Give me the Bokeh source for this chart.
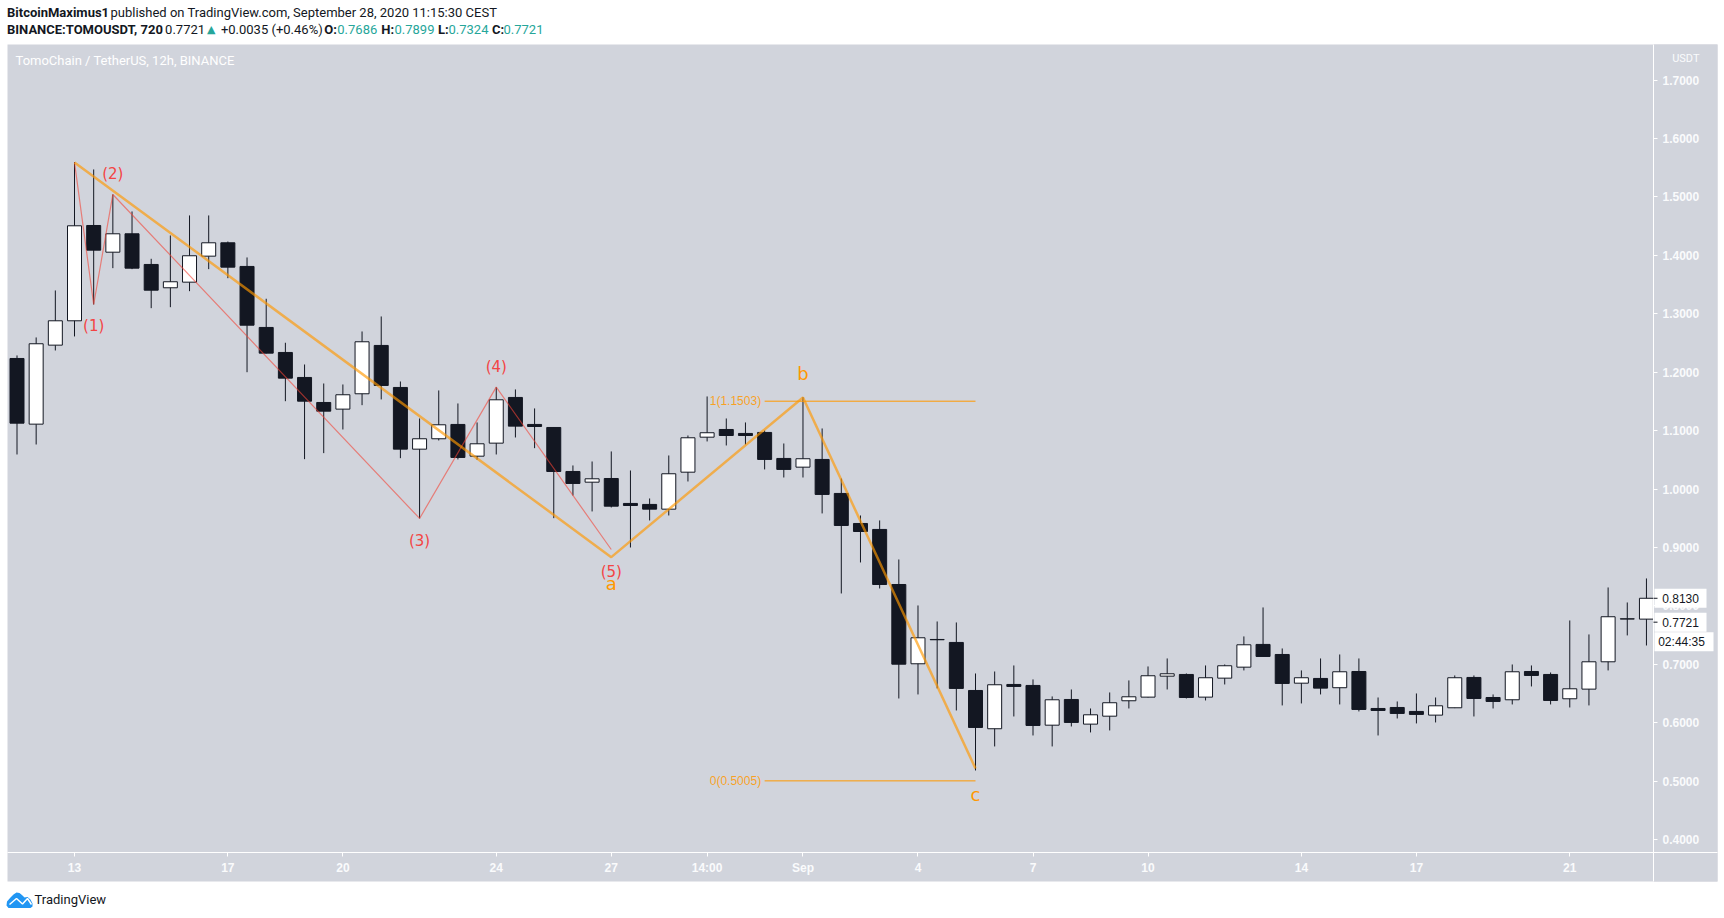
from bokeh.plotting import figure
from bokeh.core.properties import value
from bokeh.models import Label, FixedTicker, NumeralTickFormatter, Range1d, BoxAnnotation
from bokeh.embed import file_html
from bokeh.resources import INLINE

# ---------- data ----------
OPEN = [1.2234,1.1110,1.2462,1.2879,1.4510,1.4053,1.4368,1.3843,1.3444,1.3540,1.3985,1.4214,1.3809,1.2765,1.2337,1.1909,1.1481,1.1367,1.1630,1.2457,
        1.1738,1.0682,1.0860,1.1105,1.0562,1.0785,1.1567,1.1105,1.1053,1.0300,1.0117,1.0180,.9753,.9736,.9655,1.0288,1.0887,1.1019,1.0951,1.0968,
        1.0523,1.0374,1.0506,.9924,.9410,.9308,.8366,.7009,.7425,.7374,.6552,.5897,.6655,.6638,.5958,.6398,.5976,.6112,.6376,.6438,
        .6797,.6826,.6438,.6763,.6951,.7340,.7168,.6677,.6758,.6599,.6877,.6244,.6261,.6193,.6130,.6256,.6775,.6432,.6393,.6877,
        .6826,.6410,.6575,.7043,.7775,.7773]
CLOSE = [1.1127,1.2486,1.2879,1.4505,1.4088,1.4368,1.3780,1.3403,1.3547,1.3992,1.4214,1.3797,1.2804,1.2325,1.1897,1.1503,1.1332,1.1613,1.2520,1.1772,
         1.0682,1.0860,1.1099,1.0540,1.0774,1.1527,1.1076,1.1070,1.0300,1.0095,1.0175,.9706,.9718,.9655,1.0261,1.0877,1.0963,1.0916,1.0916,1.0506,
         1.0335,1.0518,.9907,.9376,.9273,.8366,.7002,.7454,.7420,.6587,.5919,.6650,.6621,.5953,.6393,.6005,.6136,.6342,.6444,.6804,
         .6838,.6432,.6770,.6975,.7334,.7134,.6672,.6770,.6592,.6872,.6227,.6210,.6159,.6142,.6290,.6770,.6415,.6364,.6872,.6809,
         .6381,.6581,.7043,.7814,.7779,.8130]
HIGH = [1.2286,1.2594,1.3398,1.5594,1.5469,1.5041,1.4750,1.3940,1.4339,1.4682,1.4682,1.4236,1.3963,1.3256,1.2503,1.2131,1.1806,1.1789,1.2696,1.2953,
        1.1840,1.1207,1.1687,1.1464,1.1139,1.1743,1.1704,1.1379,1.1060,1.0403,1.0471,1.0643,1.0317,.9838,1.0574,1.0916,1.1584,1.1207,1.1139,1.1002,
        1.0779,1.1572,1.1036,1.0180,.9547,.9462,.8794,.8007,.7733,.7716,.6843,.6877,.6980,.6741,.6450,.6569,.6244,.6518,.6724,.6963,
        .7100,.6843,.6980,.6997,.7477,.7973,.7271,.6895,.7100,.7168,.7100,.6432,.6364,.6501,.6432,.6809,.6809,.6484,.6997,.6980,
        .6860,.7750,.7511,.8315,.8058,.8469]
LOW = [1.0591,1.0762,1.2371,1.2611,1.3158,1.3780,1.3763,1.3095,1.3112,1.3386,1.3763,1.3608,1.1999,1.2320,1.1503,1.0511,1.0614,1.1019,1.1435,1.1533,
       1.0528,.9496,1.0831,1.0506,1.0501,1.0591,1.0882,1.0699,.9501,.9889,.9616,.9684,.8999,.9462,.9547,1.0129,1.0814,1.0745,1.0762,1.0335,
       1.0197,1.0197,.9582,.8212,.8743,.8298,.6415,.6484,.6587,.6210,.5183,.5594,.6107,.5782,.5594,.5936,.5834,.5868,.6244,.6432,
       .6569,.6415,.6381,.6655,.6895,.7134,.6296,.6330,.6484,.6313,.6193,.5782,.6073,.5988,.6005,.6250,.6107,.6244,.6313,.6621,
       .6313,.6261,.6296,.6895,.7494,.7322]
BAR = list(range(len(OPEN)))

TIME_TICKS = [3, 11, 17, 25, 31, 36, 41, 47, 53, 59, 67, 73, 81]
TIME_LABELS = ["13", "17", "20", "24", "27", "14:00", "Sep", "4", "7", "10", "14", "17", "21"]
PRICE_TICKS = [0.4, 0.5, 0.6, 0.7, 0.8, 0.9, 1.0, 1.1, 1.2, 1.3, 1.4, 1.5, 1.6, 1.7]

SUB_X = [3, 4, 5, 21, 25, 31]
SUB_Y = [1.5590, 1.3158, 1.5041, 0.9496, 1.1743, 0.8965]
SUB_LABELS = ["", "(1)", "(2)", "(3)", "(4)", "(5)"]
MAIN_X = [3, 31, 41, 50]
MAIN_Y = [1.5590, 0.8834, 1.1567, 0.5217]
MAIN_LABELS = ["", "a", "b", "c"]
FIB_X = [39, 50]
FIB_LEVELS = [1.1503, 0.5005]
FIB_LABELS = ["1(1.1503)", "0(0.5005)"]
LAST_PRICE = 0.8130
PREV_PRICE = 0.7721

# ---------- layout ----------
W, H = 1724, 916
BAR_PX, BAR0_PX = 19.17, 16.5
PRICE_PX, P17_PX = 584.3, 79.5
def px2x(px): return (px - BAR0_PX) / BAR_PX
def px2y(py): return 1.7 - (py - P17_PX) / PRICE_PX

BG = "#d1d4dc"; DARK = "#131722"; ORANGE = "#ff9800"; RED = "#f44336"; TEAL = "#26a69a"; PALE = "#fafbfc"
LEFT, RIGHT, TOP, BOTTOM = px2x(7), px2x(1717), px2y(44), px2y(881)
AXIS_X, AXIS_Y = px2x(1653), px2y(852)

p = figure(width=W, height=H, output_backend="svg", toolbar_location=None,
           x_range=Range1d(px2x(0), px2x(W)), y_range=Range1d(px2y(H), px2y(0)),
           x_axis_location="below", y_axis_location="right",
           min_border=0, min_border_left=0, min_border_right=0, min_border_top=0, min_border_bottom=0,
           background_fill_color="white", border_fill_color="white", outline_line_color=None,
           styles={"position": "absolute", "left": "0px", "top": "0px"})
p.grid.visible = False

p.add_layout(BoxAnnotation(left=LEFT, right=RIGHT, top=TOP, bottom=BOTTOM, fill_color=BG, fill_alpha=1,
                           line_color=None, level="underlay"))

# candles
p.segment(BAR, HIGH, BAR, LOW, line_color=DARK, line_width=1)
up = [i for i in BAR if CLOSE[i] >= OPEN[i]]
dn = [i for i in BAR if CLOSE[i] < OPEN[i]]
BODY = 14 / BAR_PX
p.vbar([i for i in up], BODY, [OPEN[i] for i in up], [CLOSE[i] for i in up], fill_color="white", line_color=DARK, line_width=1)
p.vbar([i for i in dn], BODY, [CLOSE[i] for i in dn], [OPEN[i] for i in dn], fill_color=DARK, line_color=DARK, line_width=1)
# price-scale strip hides what overhangs the scale
p.quad(left=[AXIS_X], right=[RIGHT], top=[TOP], bottom=[BOTTOM], fill_color=BG, line_color=None)

# wave drawings
p.line(SUB_X, SUB_Y, line_color=RED, line_alpha=0.6, line_width=1.2)
p.line(MAIN_X, MAIN_Y, line_color=ORANGE, line_alpha=0.65, line_width=2.5)
for lv in FIB_LEVELS:
    p.line(FIB_X, [lv, lv], line_color=ORANGE, line_width=1)

def wave_text(x, y, t, off, color, size):
    p.text([x], [y], text=[t], y_offset=off, text_color=color, text_font=value("DejaVu Sans"), text_font_size=value(f"{size}px"),
           text_align="center", text_baseline="middle")
for x, y, t, off in zip(SUB_X[1:], SUB_Y[1:], SUB_LABELS[1:], [21.7, -20, 22.7, -20, 22.7]):
    wave_text(x, y, t, off, "#f44444", 15)
for x, y, t, off in zip(MAIN_X[1:], MAIN_Y[1:], MAIN_LABELS[1:], [26, -24, 26]):
    wave_text(x, y, t, off, ORANGE, 18)
for lv, t in zip(FIB_LEVELS, FIB_LABELS):
    p.text([FIB_X[0]], [lv], text=[t], x_offset=-3.5, text_color=ORANGE, text_alpha=0.85, text_font=value("Liberation Sans"),
           text_font_size=value("12px"), text_align="right", text_baseline="middle")

# axes
ax = p.xaxis[0]; ay = p.yaxis[0]
ax.fixed_location = AXIS_Y
ax.bounds = (LEFT, RIGHT)
ax.ticker = FixedTicker(ticks=TIME_TICKS)
ax.major_label_overrides = dict(zip(TIME_TICKS, TIME_LABELS))
ay.fixed_location = AXIS_X
ay.bounds = (BOTTOM, TOP)
ay.ticker = FixedTicker(ticks=PRICE_TICKS)
ay.formatter = NumeralTickFormatter(format="0.0000")
for a in (ax, ay):
    a.axis_line_color = "white"; a.axis_line_width = 1
    a.major_tick_line_color = "white"; a.major_tick_in = 0; a.major_tick_out = 4
    a.minor_tick_line_color = None
    a.major_label_text_color = PALE
    a.major_label_text_font = "Liberation Sans"
    a.major_label_text_font_size = "12px"
    a.major_label_text_font_style = "bold"
    a.major_label_standoff = 5
ax.major_label_standoff = 4

# price tags on the scale
TAG_Y = [LAST_PRICE, PREV_PRICE]
p.rect([px2x(1680)] * 2, TAG_Y, width=52, height=19, width_units="screen", height_units="screen",
       fill_color="white", line_color=None, level="overlay")
p.rect([px2x(1683.5)], [px2y(641.35)], width=59, height=19, width_units="screen", height_units="screen",
       fill_color="white", line_color=None, level="overlay")
p.segment([AXIS_X] * 2, TAG_Y, [AXIS_X + 4 / BAR_PX] * 2, TAG_Y, line_color=DARK, line_width=1, level="overlay")
p.text([AXIS_X] * 2, TAG_Y, text=[f"{v:.4f}" for v in TAG_Y], x_offset=8.7, text_color=DARK, text_font=value("Liberation Sans"),
       text_font_size=value("12px"), text_align="left", text_baseline="middle", level="overlay")
p.text([AXIS_X], [px2y(641.7)], text=["02:44:35"], x_offset=4.7, text_color=DARK, text_font=value("Liberation Sans"),
       text_font_size=value("12px"), text_align="left", text_baseline="middle", level="overlay")

# logo
p.patch(list(map(px2x, [6, 6.5, 10, 13, 16, 19, 22, 24, 27, 30, 32, 32, 30, 8])),
        list(map(px2y, [905, 901, 897, 894, 892, 892.5, 895, 897, 896.5, 899, 903, 906, 907.5, 907.5])),
        fill_color="#2196f3", line_color=None)
p.line(list(map(px2x, [9, 16, 22, 27, 31])), list(map(px2y, [904, 898, 903.5, 898, 904])), line_color="white", line_width=1.5)

def lab(text, x, y, color=DARK, size=13, bold=False, font="Roboto"):
    p.add_layout(Label(x=x, y=H - y, x_units="screen", y_units="screen", text=text, text_color=color,
                       text_font=font, text_font_size=f"{size}px", text_font_style="bold" if bold else "normal",
                       text_align="left", text_baseline="middle", level="overlay"))

lab("BitcoinMaximus1", 6.5, 12.3, bold=True)
lab("published on TradingView.com, September 28, 2020 11:15:30 CEST", 110, 12.3)
lab("BINANCE:TOMOUSDT, 720", 6.5, 29.3, bold=True)
lab("0.7721", 164.6, 29.3)
lab("▲", 206.5, 29.3, color=TEAL, size=11, font="DejaVu Sans")
lab("+0.0035 (+0.46%)", 220.4, 29.3)
lab("O:", 323.8, 29.3, bold=True)
lab("0.7686", 336.8, 29.3, color=TEAL)
lab("H:", 380.8, 29.3, bold=True)
lab("0.7899", 394, 29.3, color=TEAL)
lab("L:", 437.4, 29.3, bold=True)
lab("0.7324", 448, 29.3, color=TEAL)
lab("C:", 491.4, 29.3, bold=True)
lab("0.7721", 503, 29.3, color=TEAL)
lab("TomoChain / TetherUS, 12h, BINANCE", 15, 59.7, color="#ffffff", size=13)
lab("USDT", 1671.7, 58, color=PALE, size=11)
lab("TradingView", 34, 899.3, size=13)

open("out.html", "w").write(file_html(p, INLINE))
